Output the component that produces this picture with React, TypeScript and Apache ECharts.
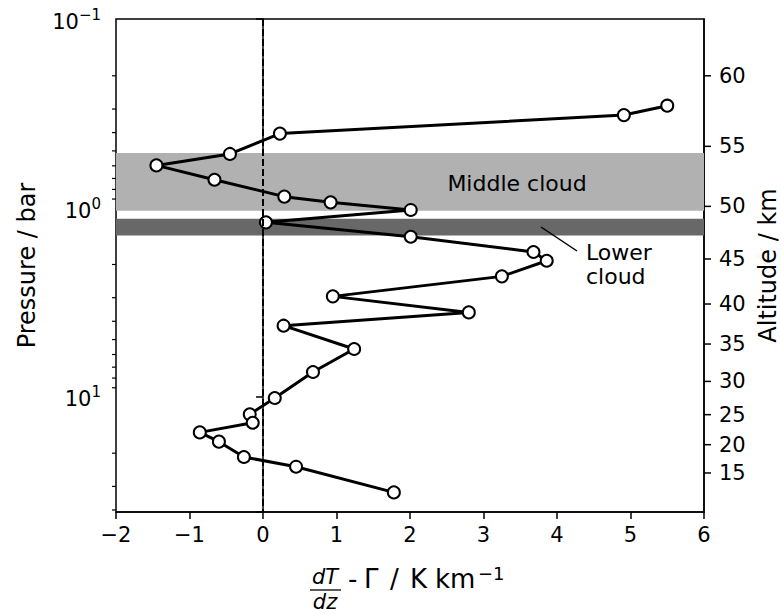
import { useEffect, useRef } from "react";
import * as echarts from "echarts";

// Static stability profile: deviation of the temperature gradient from the adiabatic lapse rate
const lapseDeviation = [
  5.5, 4.91, 0.23, -0.45, -1.45, -0.66, 0.29, 0.92, 2.01, 0.04, 2.01, 3.68, 3.86, 3.25,
  0.95, 2.8, 0.28, 1.24, 0.68, 0.16, -0.18, -0.14, -0.86, -0.6, -0.26, 0.45, 1.78,
];
const pressureBar = [
  0.288, 0.323, 0.405, 0.519, 0.597, 0.711, 0.874, 0.937, 1.028, 1.196, 1.425, 1.717, 1.91,
  2.312, 2.951, 3.59, 4.221, 5.609, 7.424, 10.2, 12.45, 13.79, 15.52, 17.38, 20.95, 23.59, 32.27,
];

// Secondary scale: altitude ticks and the pressure level each one sits at
const altitudeKm = [15, 20, 25, 30, 35, 40, 45, 50, 55, 60];
const altitudePressure = [25.47, 18.03, 12.5, 8.33, 5.28, 3.24, 1.87, 0.984, 0.473, 0.2];

// Minor ticks of the logarithmic pressure axis
const pressureMinorTicks = [0.2, 0.3, 0.4, 0.5, 0.6, 0.7, 0.8, 0.9, 2, 3, 4, 5, 6, 7, 8, 9, 20, 30, 40];

// Cloud layers (pressure range, bar)
const middleCloud = [0.513, 1.037];
const lowerCloud = [1.144, 1.402];

const FONT = '"DejaVu Sans", Verdana, sans-serif';
const P_MIN = 0.1;
const P_MAX = 41;
const TICK_FONT = 21;

const minusSign = (v: number) => (v < 0 ? "\u2212" + Math.abs(v) : String(v));

const txt = (text: string, x: number, y: number, size: number, extra: any = {}) => ({
  type: "text",
  z: 10,
  x,
  y,
  style: {
    text,
    fontSize: size,
    fontFamily: FONT,
    fill: "#000",
    align: "left",
    verticalAlign: "middle",
    ...extra,
  },
});

export default function App() {
  const ref = useRef<HTMLDivElement>(null);

  useEffect(() => {
    if (!ref.current) return;
    const chart = echarts.init(ref.current, null, { renderer: "svg" });

    const option: any = {
      animation: false,
      backgroundColor: "#fff",
      grid: {
        left: 116,
        top: 19,
        width: 588,
        height: 493,
        show: true,
        borderColor: "#000",
        borderWidth: 1.5,
        containLabel: false,
        outerBoundsMode: "none",
      },
      xAxis: {
        type: "value",
        min: -2,
        max: 6,
        interval: 1,
        axisLine: { onZero: false, lineStyle: { color: "#000", width: 1.5 } },
        axisTick: { length: 7, lineStyle: { color: "#000", width: 1.5 } },
        axisLabel: {
          margin: 12,
          fontSize: TICK_FONT,
          fontFamily: FONT,
          color: "#000",
          formatter: (v: number) => minusSign(v),
        },
        splitLine: { show: false },
      },
      yAxis: [
        {
          type: "log",
          logBase: 10,
          min: P_MIN,
          max: P_MAX,
          inverse: true,
          axisLine: { lineStyle: { color: "#000", width: 1.5 } },
          axisTick: { length: 7, lineStyle: { color: "#000", width: 1.5 } },
          axisLabel: {
            margin: 15,
            color: "#000",
            fontFamily: FONT,
            formatter: (v: number) => {
              const e = Math.log10(v);
              const r = Math.round(e);
              if (Math.abs(e - r) > 1e-6) return "";
              return `{b|10}{s|${minusSign(r)}}`;
            },
            rich: {
              b: { fontSize: TICK_FONT, fontFamily: FONT, color: "#000", padding: [6, 0, 0, 0] },
              s: { fontSize: 15, fontFamily: FONT, color: "#000", padding: [0, 0, 8, 0] },
            },
          },
          splitLine: { show: false },
          name: "Pressure / bar",
          nameLocation: "middle",
          nameGap: 77,
          nameTextStyle: { fontSize: 24, fontFamily: FONT, color: "#000" },
        },
        {
          type: "log",
          logBase: 10,
          min: P_MIN,
          max: P_MAX,
          inverse: true,
          position: "right",
          axisLine: { show: true, lineStyle: { color: "#000", width: 1.5 } },
          axisTick: { show: false },
          axisLabel: { show: false },
          splitLine: { show: false },
          name: "Altitude / km",
          nameLocation: "middle",
          nameGap: 52,
          nameRotate: 90,
          nameTextStyle: { fontSize: 24, fontFamily: FONT, color: "#000" },
        },
      ],
      series: [
        {
          // cloud bands and the zero line
          type: "line",
          name: "layers",
          data: [],
          silent: true,
          z: 1,
          markArea: {
            silent: true,
            label: { show: false },
            data: [
              [
                { yAxis: middleCloud[0], itemStyle: { color: "#b1b1b1" } },
                { yAxis: middleCloud[1] },
              ],
              [
                { yAxis: lowerCloud[0], itemStyle: { color: "#686868" } },
                { yAxis: lowerCloud[1] },
              ],
            ],
          },
          markLine: {
            silent: true,
            symbol: ["none", "none"],
            label: { show: false },
            lineStyle: { color: "#000", width: 2, type: [7, 3] },
            data: [{ xAxis: 0 }],
          },
        },
        {
          type: "custom",
          name: "minorTicks",
          silent: true,
          clip: false,
          z: 5,
          data: pressureMinorTicks.map((p) => [-2, p]),
          encode: { x: 0, y: 1 },
          renderItem: (_params: any, api: any) => {
            const pt = api.coord([api.value(0), api.value(1)]);
            return {
              type: "line",
              shape: { x1: pt[0] - 4, y1: pt[1], x2: pt[0], y2: pt[1] },
              style: { stroke: "#000", lineWidth: 1.2 },
            };
          },
        },
        {
          type: "custom",
          name: "altitudeAxis",
          silent: true,
          clip: false,
          z: 5,
          data: altitudeKm.map((km, i) => [6, altitudePressure[i], km]),
          encode: { x: 0, y: 1 },
          renderItem: (_params: any, api: any) => {
            const pt = api.coord([api.value(0), api.value(1)]);
            return {
              type: "group",
              children: [
                {
                  type: "line",
                  shape: { x1: pt[0], y1: pt[1], x2: pt[0] + 7, y2: pt[1] },
                  style: { stroke: "#000", lineWidth: 1.5 },
                },
                {
                  type: "text",
                  style: {
                    text: String(api.value(2)),
                    x: pt[0] + 15,
                    y: pt[1],
                    fontSize: TICK_FONT,
                    fontFamily: FONT,
                    fill: "#000",
                    align: "left",
                    verticalAlign: "middle",
                  },
                },
              ],
            };
          },
        },
        {
          type: "line",
          name: "profile",
          z: 4,
          data: lapseDeviation.map((v, i) => [v, pressureBar[i]]),
          symbol: "circle",
          symbolSize: 12,
          showSymbol: true,
          showAllSymbol: true,
          lineStyle: { color: "#000", width: 3 },
          itemStyle: { color: "#fff", borderColor: "#000", borderWidth: 2 },
          emphasis: { disabled: true },
        },
      ],
      graphic: [
        txt("Middle cloud", 517, 183, 22, { align: "center" }),
        {
          type: "line",
          z: 10,
          shape: { x1: 541, y1: 227, x2: 577, y2: 251 },
          style: { stroke: "#000", lineWidth: 1.5 },
        },
        txt("Lower\ncloud", 586, 264, 22, { lineHeight: 24 }),
        // x-axis title: dT/dz - Γ / K km⁻¹
        txt("dT\ndz", 325, 589.5, 21, { align: "center", fontStyle: "italic", lineHeight: 24.5 }),
        {
          type: "line",
          z: 10,
          shape: { x1: 310, y1: 590, x2: 341, y2: 590 },
          style: { stroke: "#000", lineWidth: 1.3 },
        },
        txt("-", 348, 579, 26, { lineHeight: 22 }),
        txt("\u0393", 364, 579, 26, { lineHeight: 22 }),
        txt("/", 390, 579, 26, { lineHeight: 22 }),
        txt("K", 410, 579, 26, { lineHeight: 22 }),
        txt("km", 435, 579, 26, { lineHeight: 22 }),
        txt("\u22121", 478, 573, 18, { lineHeight: 16 }),
      ],
    };

    chart.setOption(option);
    return () => chart.dispose();
  }, []);

  return (
    <div
      ref={ref}
      style={{ position: "fixed", left: 0, top: 0, width: 781, height: 615, background: "#fff" }}
    />
  );
}
